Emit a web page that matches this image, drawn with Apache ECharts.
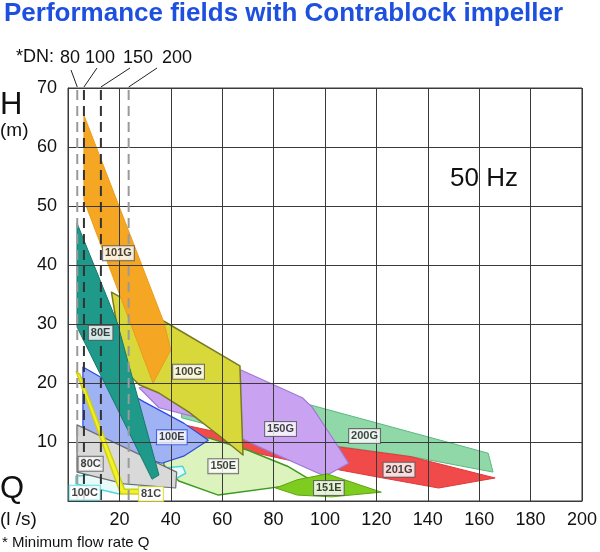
<!DOCTYPE html>
<html><head><meta charset="utf-8">
<script src="https://cdn.jsdelivr.net/npm/echarts@6/dist/echarts.min.js"></script>
<style>html,body{margin:0;padding:0;background:#fff}#c{width:600px;height:552px}</style>
</head><body><div id="c"></div>
<script>
// ---- data (Q in l/s, H in m) ----
const xTickMax = 200, yTickMax = 70;
const dnSizes = ['80', '100', '150', '200'];
const dnMinQ = [3.6, 6.2, 12.8, 23.6];

const f200G = [[44.2,15.1],[94.2,16.3],[163.5,8.1],[165.4,4.9],[132.7,7.6],[104.6,9.3],[73.8,10.7],[44.2,14.1]];
const f201G = [[43.1,13.1],[73.8,10.2],[104.6,9.2],[133.5,7.5],[166.2,3.9],[144.2,2.2],[118.8,4.2],[89.2,6.6],[68.1,8.6],[43.1,12.4]];
const f150G = [[27.7,19.2],[67.3,22.2],[91.2,17.5],[95.0,15.9],[103.5,10.3],[109.2,6.4],[100.0,4.2],[73.8,9.3],[50.8,14.1],[35.4,15.8]];
const f150E = [[37.3,9.5],[54.6,10.7],[70.0,8.6],[85.4,5.9],[95.8,3.2],[58.5,1.0],[43.1,3.4],[37.3,6.1]];
const f151E = [[80.8,2.2],[89.2,3.6],[100.8,4.6],[121.9,1.5],[102.7,0.7],[89.2,1.0]];
const f100G = [[16.9,35.4],[39.2,30.0],[66.9,22.9],[68.1,7.8],[59.6,10.8],[46.9,15.1],[35.4,18.3],[27.7,19.7],[21.9,22.2]];
const f101G = [[6.2,65.4],[37.3,30.3],[40.0,25.6],[33.1,20.0],[6.2,51.0]];
const f100E = [[5.8,22.7],[29.6,16.8],[45.0,13.2],[54.6,10.3],[45.0,7.6],[36.5,6.4],[5.8,10.3]];
const f100C = [[3.1,4.2],[44.6,5.9],[45.8,4.7],[39.2,3.1],[20.0,1.2],[3.1,2.9]];
const f80C  = [[3.5,12.9],[42.3,4.9],[41.9,2.2],[21.9,2.9],[3.5,4.9]];
const f80E  = [[3.5,47.1],[19.2,30.2],[35.4,4.4],[32.7,3.7],[3.5,29.5]];
const f81C  = [[3.2,21.9],[4.6,21.5],[22.0,2.0],[27.7,2.0],[27.7,1.2],[20.5,1.2]];

const labelNames = ['101G','80E','100G','150G','200G','201G','100E','150E','151E','80C','100C','81C'];
const labelQ     = [19.6, 12.7, 46.9, 82.7, 115.4, 128.8, 40.4, 60.4, 101.5, 8.8, 6.5, 32.3];
const labelH     = [42.0, 28.5, 21.9, 12.2, 11.0, 5.3, 10.8, 5.9, 2.2, 6.3, 1.4, 1.2];

// ---- styles ----
const fieldStyles = [
  {pts: f200G, fill: '#90d8a8', stroke: '#5cb880', lw: 1},
  {pts: f201G, fill: '#f04a4a', stroke: '#e03838', lw: 1},
  {pts: f150G, fill: '#c9a3f2', stroke: '#a07ad6', lw: 1.2},
  {pts: f150E, fill: '#ddf3bd', stroke: '#3c9a1e', lw: 1.5},
  {pts: f151E, fill: '#7ecc20', stroke: '#5ca412', lw: 1},
  {pts: f100G, fill: '#d8d83a', stroke: '#767a22', lw: 1.5},
  {pts: f101G, fill: '#f5a623', stroke: '#eb9c18', lw: 1},
  {pts: f100E, fill: '#9eb2f4', stroke: '#2c4ce0', lw: 1.2},
  {pts: f100C, fill: '#e9fafa', stroke: '#4fd6d6', lw: 1.5},
  {pts: f80C,  fill: '#d9d9d9', stroke: '#6e6e6e', lw: 1.2},
  {pts: f80E,  fill: '#1f9a8a', stroke: '#17796c', lw: 1},
  {pts: f81C,  fill: '#f2f22a', stroke: '#cfcf12', lw: 1.5}
];
const labelBorder = {'100E': '#2c4ce0', '100C': '#4fd6d6', '81C': '#d8d820'};
const dnColors = ['#9a9a9a', '#333333', '#333333', '#9a9a9a'];
const dnLabelX = [70, 100, 138, 177];
const dnLeaderStart = [[71, 70], [97, 68], [130, 68], [157, 68]];
const FONT = '"Liberation Sans", Arial, Helvetica, sans-serif';

const chart = echarts.init(document.getElementById('c'), null, {renderer: 'canvas'});

const series = fieldStyles.map((f, i) => ({
  type: 'custom',
  z: 2,
  silent: true,
  coordinateSystem: 'cartesian2d',
  data: [0],
  renderItem: function (params, api) {
    return {
      type: 'polygon',
      shape: {points: f.pts.map(p => api.coord(p))},
      style: {fill: f.fill, stroke: f.stroke, lineWidth: f.lw, lineJoin: 'round'}
    };
  }
}));

series.push({
  type: 'custom',
  z: 6,
  silent: true,
  coordinateSystem: 'cartesian2d',
  data: dnMinQ.map((q, i) => [q, i]),
  renderItem: function (params, api) {
    const q = api.value(0), i = api.value(1);
    const top = api.coord([q, yTickMax]);
    const bot = api.coord([q, 0]);
    return {
      type: 'group',
      children: [
        {type: 'line', shape: {x1: top[0], y1: top[1] + 2, x2: bot[0], y2: bot[1]},
         style: {stroke: dnColors[i], lineWidth: 2, lineDash: [10, 6]}},
        {type: 'line', shape: {x1: dnLeaderStart[i][0], y1: dnLeaderStart[i][1], x2: top[0], y2: top[1] - 1},
         style: {stroke: '#222', lineWidth: 1}},
        {type: 'text', style: {text: dnSizes[i], x: dnLabelX[i], y: 58, align: 'center', verticalAlign: 'middle',
          font: '18px ' + FONT, fill: '#111'}}
      ]
    };
  }
});

series.push({
  type: 'scatter',
  z: 8,
  silent: true,
  symbolSize: 0,
  data: labelNames.map((n, i) => ({
    value: [labelQ[i], labelH[i]],
    label: {
      show: true, position: 'inside', formatter: n,
      fontFamily: FONT, fontSize: 11, fontWeight: 'bold', color: '#111',
      backgroundColor: '#ffffff', borderColor: labelBorder[n] || '#555', borderWidth: 1,
      padding: [2, 2, 1, 2]
    }
  }))
});

chart.setOption({
  animation: false,
  grid: {left: 68, top: 88, right: 12, bottom: 51, show: true, borderColor: '#3a3a3a', borderWidth: 1, z: 5},
  xAxis: {
    type: 'value', min: 0, max: xTickMax, interval: 20, z: 5,
    axisLine: {show: true, lineStyle: {color: '#3a3a3a', width: 1}},
    axisTick: {show: false},
    splitLine: {show: true, lineStyle: {color: '#3a3a3a', width: 1}},
    axisLabel: {margin: 10, fontSize: 18, color: '#111', fontFamily: FONT,
      formatter: v => (v === 0 ? '' : String(v))}
  },
  yAxis: {
    type: 'value', min: 0, max: yTickMax, interval: 10, z: 5,
    axisLine: {show: true, lineStyle: {color: '#3a3a3a', width: 1}},
    axisTick: {show: false},
    splitLine: {show: true, lineStyle: {color: '#3a3a3a', width: 1}},
    axisLabel: {margin: 11, fontSize: 18, color: '#111', fontFamily: FONT,
      formatter: v => (v === 0 ? '' : String(v))}
  },
  graphic: [
    {type: 'text', left: 4, top: 1, style: {text: 'Performance fields with Contrablock impeller',
      font: 'bold 26px ' + FONT, fill: '#1e50e0'}},
    {type: 'text', left: 16, top: 48, style: {text: '*DN:', font: '18px ' + FONT, fill: '#111'}},
    {type: 'text', left: 0, top: 90, style: {text: 'H', font: '31px ' + FONT, fill: '#111'}},
    {type: 'text', left: 0, top: 121, style: {text: '(m)', font: '19px ' + FONT, fill: '#111'}},
    {type: 'text', left: 0, top: 474, style: {text: 'Q', font: '31px ' + FONT, fill: '#111'}},
    {type: 'text', left: 0, top: 510, style: {text: '(l /s)', font: '19px ' + FONT, fill: '#111'}},
    {type: 'text', left: 2, top: 535, style: {text: '* Minimum flow rate Q', font: '15px ' + FONT, fill: '#111'}},
    {type: 'text', left: 450, top: 166, style: {text: '50 Hz', font: '26px ' + FONT, fill: '#111'}}
  ],
  series: series
});
</script></body></html>
